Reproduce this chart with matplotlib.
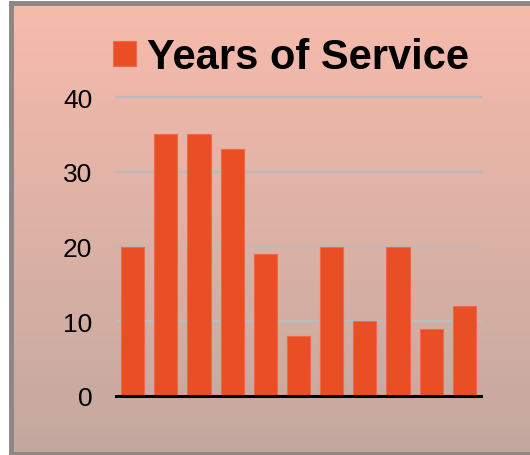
import numpy as np
import matplotlib
matplotlib.use("Agg")
import matplotlib.pyplot as plt
from matplotlib.colors import LinearSegmentedColormap

plt.rcParams['font.family'] = ['Liberation Sans', 'DejaVu Sans']

# data
positions = list(range(11))
years = [20, 35, 35, 33, 19, 8, 20, 10, 20, 9, 12]
series_name = "Years of Service"
yticks = [0, 10, 20, 30, 40]

bar_color = '#E94E24'

fig = plt.figure(figsize=(5.30, 4.56), dpi=100)
fig.patch.set_facecolor('white')

# gradient panel behind the chart
bg = fig.add_axes([11 / 530, 1 - 455 / 456, 519 / 530, 451 / 456])
cmap = LinearSegmentedColormap.from_list('bg', ['#F7BBAC', '#C3A89F'])
grad = np.linspace(0, 1, 256).reshape(-1, 1)
bg.imshow(grad, aspect='auto', cmap=cmap, extent=[0, 1, 0, 1], origin='upper')
bg.set_xticks([])
bg.set_yticks([])
for side in ['left', 'top', 'bottom']:
    bg.spines[side].set_color('#8E8684')
    bg.spines[side].set_linewidth(3.5)
bg.spines['right'].set_visible(False)

ax = fig.add_axes([116 / 530, 59 / 456, 365 / 530, 299 / 456])
ax.patch.set_alpha(0)
ax.bar(positions, years, width=0.70, color=bar_color, edgecolor='#EF6A48',
       linewidth=0.8, zorder=3, label=series_name)
ax.set_xlim(-0.5, len(positions) - 0.5)
ax.set_ylim(0, 40)
ax.set_yticks(yticks)
ax.set_xticks([])
for y in yticks[1:]:
    ax.axhline(y, color='#BBBBBB', lw=1.6, zorder=1, clip_on=False)
ax.axhline(0, color='black', lw=2.2, zorder=4, clip_on=False)
for s in ax.spines.values():
    s.set_visible(False)
ax.tick_params(axis='y', length=0, pad=17, labelsize=19)

fig.legend(loc='center', bbox_to_anchor=(291 / 530, 1 - 58 / 456),
           prop={'size': 30, 'weight': 'bold'}, frameon=False,
           handlelength=0.55, handleheight=0.55, handletextpad=0.25,
           borderpad=0, borderaxespad=0)

fig.savefig('out.png', dpi=100)
